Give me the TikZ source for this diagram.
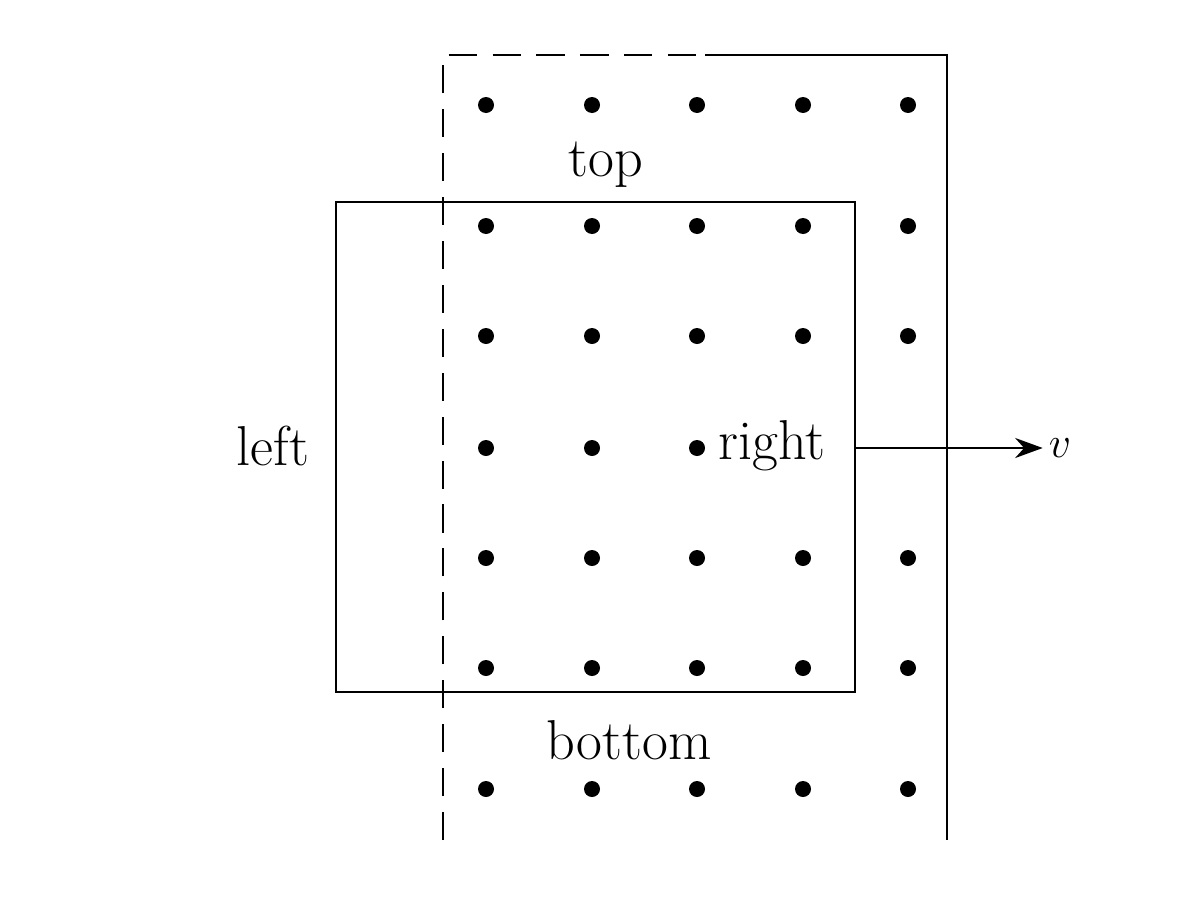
\documentclass[tikz,border=0pt]{standalone}
\usetikzlibrary{arrows.meta}
\begin{document}
\begin{tikzpicture}[x=0.02cm,y=-0.02cm,
  ln/.style={line width=1.6pt},
  dot/.style={circle,fill=black,inner sep=0pt,minimum size=0.32cm},
  lab/.style={font=\fontsize{32}{38}\selectfont}]
\useasboundingbox (0,0) rectangle (1200,896);
\coordinate (tl) at (443,55); \coordinate (tm) at (705,55);
\coordinate (tr) at (947,55); \coordinate (br) at (947,840);
\coordinate (bl) at (443,840);
\draw[ln,dash pattern=on 16pt off 9pt] (bl) -- (tl) -- (tm);
\draw[ln] (tm) -- (tr) -- (br);
\foreach \y in {105,226,336,448,558,668,789}
  \foreach \x in {486,592,697,803,908}{
    \pgfmathsetmacro\skip{(\y==448 && \x>700) ? 1 : 0}
    \ifdim\skip pt<0.5pt \node[dot] at (\x,\y) {};\fi
  }
\draw[ln] (336,202) rectangle (855,692);
\node[lab] (top) at (606,165) {top};
\node[lab] (bottom) at (629,740) {bottom};
\node[lab] (left) at (273,446) {left};
\node[lab] (right) at (772,446) {right};
\coordinate (rs) at (855,448);
\node[lab] (v) at (1060,448) {$v$};
\draw[ln,-{Stealth[length=0.55cm,width=0.4cm]}] (rs) -- (v.west);
\end{tikzpicture}
\end{document}
